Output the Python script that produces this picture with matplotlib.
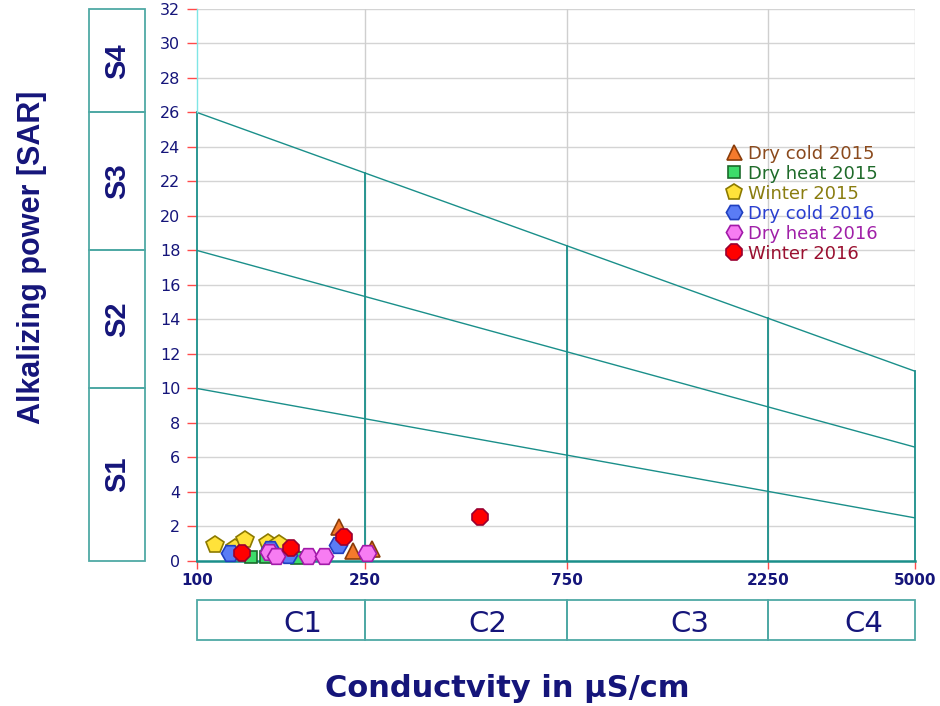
import matplotlib
matplotlib.use("Agg")
import matplotlib.pyplot as plt
from matplotlib import font_manager
from matplotlib.patches import Rectangle
import matplotlib.transforms as mtransforms
import numpy as np

# Données (conductivité en µS/cm, SAR)
dry_cold_2015_ec = [217, 234, 260]
dry_cold_2015_sar = [1.97, 0.58, 0.70]
dry_heat_2015_ec = [134, 146, 172]
dry_heat_2015_sar = [0.23, 0.23, 0.17]
winter_2015_ec = [110, 123, 130, 147, 156]
winter_2015_sar = [0.93, 0.75, 1.22, 1.04, 0.97]
dry_cold_2016_ec = [120, 149, 164, 216]
dry_cold_2016_sar = [0.46, 0.70, 0.35, 0.93]
dry_heat_2016_ec = [148, 154, 183, 200, 253]
dry_heat_2016_sar = [0.52, 0.29, 0.29, 0.29, 0.46]
winter_2016_ec = [128, 167, 223, 468]
winter_2016_sar = [0.46, 0.75, 1.39, 2.55]

# Limites des classes du diagramme de Riverside
ec_bounds = [100, 250, 750, 2250, 5000]
c_labels = ["C1", "C2", "C3", "C4"]
sar_bounds = [0, 10, 18, 26, 32]
s_labels = ["S1", "S2", "S3", "S4"]
sar_left = [10, 18, 26]
sar_right = [2.5, 6.6, 11]

navy = "#15157a"
teal = "#1a8f8a"
box_col = "#4fa9a5"
tick_red = "#ff4a4a"


def has_font(name):
    try:
        font_manager.findfont(name, fallback_to_default=False)
        return True
    except ValueError:
        return False


if has_font("Liberation Sans Narrow"):
    rot_family = ["Liberation Sans Narrow", "DejaVu Sans"]
    ylab_size, s_size = 25, 23
else:
    rot_family = ["Liberation Sans", "DejaVu Sans"]
    ylab_size, s_size = 22, 21

fig = plt.figure(figsize=(9.4, 7.06), dpi=100)
ax = fig.add_axes([0.2096, 0.2054, 0.7638, 0.7819])

ax.set_xscale("log")
ax.set_xlim(100, 5000)
ax.set_ylim(0, 32)

# Grille
for y in range(2, 33, 2):
    ax.plot([100, 5000], [y, y], color="#d4d4d4", lw=1.0, zorder=1)
for x in ec_bounds[1:]:
    ax.plot([x, x], [0, 32], color="#cfcfcf", lw=1.0, zorder=1)

# Lignes des classes
lx = np.log10(ec_bounds[0])
rx = np.log10(ec_bounds[-1])
for a, b in zip(sar_left, sar_right):
    ax.plot([ec_bounds[0], ec_bounds[-1]], [a, b], color=teal, lw=1.0, zorder=2)


def top_sar(x):
    t = (np.log10(x) - lx) / (rx - lx)
    return sar_left[-1] + t * (sar_right[-1] - sar_left[-1])


for x in ec_bounds:
    ax.plot([x, x], [0, top_sar(x)], color=teal, lw=1.3, zorder=2, clip_on=False)
ax.plot([100, 100], [26, 32], color="#7fe6e6", lw=1.0, zorder=2, clip_on=False)
ax.plot([100, 5000], [0, 0], color=teal, lw=1.8, zorder=2, clip_on=False)

for s in ax.spines.values():
    s.set_visible(False)

# Points
series = [
    (dry_cold_2015_ec, dry_cold_2015_sar, "^", 12, "#f47a2c", "#8a3c0a", "#8b4a1c", "Dry cold 2015"),
    (dry_heat_2015_ec, dry_heat_2015_sar, "s", 9, "#3ddc6a", "#1b6b2b", "#1f6b2a", "Dry heat 2015"),
    (winter_2015_ec, winter_2015_sar, "p", 13, "#ffe23a", "#8c7a00", "#8a7d10", "Winter 2015"),
    (dry_cold_2016_ec, dry_cold_2016_sar, "H", 13, "#5a7cf5", "#1f3fbf", "#2a3fcf", "Dry cold 2016"),
    (dry_heat_2016_ec, dry_heat_2016_sar, "H", 13, "#f77cf2", "#a11aa8", "#a020a8", "Dry heat 2016"),
    (winter_2016_ec, winter_2016_sar, "8", 13, "#ff0000", "#9a0030", "#9a1030", "Winter 2016"),
]
text_cols = []
for i, (xs, ys, m, ms, fc, ec, tc, lab) in enumerate(series):
    ax.plot(xs, ys, linestyle="none", marker=m, markersize=ms, markerfacecolor=fc,
            markeredgecolor=ec, markeredgewidth=1.2, label=lab, zorder=5 + i, clip_on=False)
    text_cols.append(tc)

leg = ax.legend(loc="upper left", bbox_to_anchor=(0.7535, 0.818), bbox_transform=fig.transFigure,
                frameon=False, labelspacing=0.11, handlelength=1.0,
                handletextpad=0.3, markerscale=0.9, borderpad=0.4,
                prop={"family": "DejaVu Sans", "size": 13})
for t, c in zip(leg.get_texts(), text_cols):
    t.set_color(c)

# Axes et graduations
ax.set_xticks(ec_bounds)
ax.set_xticklabels([str(v) for v in ec_bounds])
ax.xaxis.set_minor_locator(matplotlib.ticker.NullLocator())
ax.set_yticks(range(0, 33, 2))
ax.tick_params(axis="y", direction="out", length=7, width=1, color=tick_red, pad=5,
               labelsize=11.5, labelcolor=navy)
ax.tick_params(axis="x", direction="out", length=6, width=1, color=tick_red, pad=3,
               labelsize=11, labelcolor=navy)
for lbl in ax.get_xticklabels():
    lbl.set_fontweight("bold")

# Boîtes S à gauche
tr_s = mtransforms.blended_transform_factory(fig.transFigure, ax.transData)
for (y0, y1), lab in zip(zip(sar_bounds[:-1], sar_bounds[1:]), s_labels):
    ax.add_patch(Rectangle((0.0947, y0), 0.0596, y1 - y0, transform=tr_s, fill=False,
                           edgecolor=box_col, lw=1.3, clip_on=False))
    ax.text(0.1245, (y0 + y1) / 2, lab, transform=tr_s, rotation=90, ha="center",
            va="center", fontsize=s_size, fontweight="bold", color=navy, family=rot_family)

# Boîtes C en bas
tr_c = mtransforms.blended_transform_factory(ax.transData, fig.transFigure)
tr_c_off = mtransforms.offset_copy(tr_c, fig=fig, x=22, y=0, units="dots")
for (x0, x1), lab in zip(zip(ec_bounds[:-1], ec_bounds[1:]), c_labels):
    ax.add_patch(Rectangle((x0, 0.0935), x1 - x0, 0.0566, transform=tr_c, fill=False,
                           edgecolor=box_col, lw=1.3, clip_on=False))
    xc = 10 ** ((np.log10(x0) + np.log10(x1)) / 2)
    ax.text(xc, 0.1048, lab, transform=tr_c_off, ha="center", va="baseline",
            fontsize=21, color=navy, family="DejaVu Sans")

# Titres des axes
fig.text(0.034, 0.636, "Alkalizing power [SAR]", rotation=90, ha="center", va="center",
         fontsize=ylab_size, fontweight="bold", color=navy, family=rot_family)
fig.text(0.540, 0.0127, "Conductvity in µS/cm", ha="center", va="baseline",
         fontsize=22, fontweight="bold", color=navy, family="DejaVu Sans")

fig.savefig("out.png", dpi=100)
